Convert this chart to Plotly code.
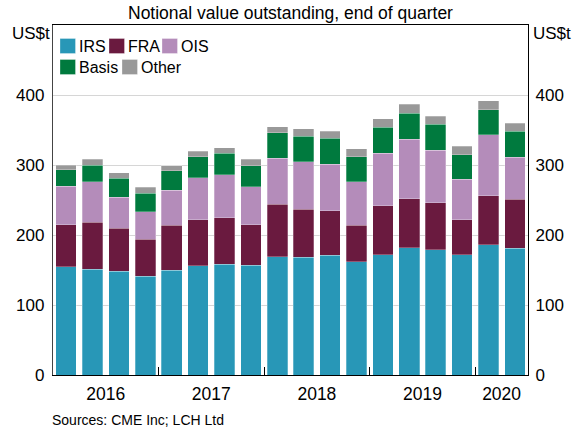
import plotly.graph_objects as go

quarters = ["2016Q1", "2016Q2", "2016Q3", "2016Q4",
            "2017Q1", "2017Q2", "2017Q3", "2017Q4",
            "2018Q1", "2018Q2", "2018Q3", "2018Q4",
            "2019Q1", "2019Q2", "2019Q3", "2019Q4",
            "2020Q1", "2020Q2"]
irs = [155, 151, 148, 141, 150, 156, 158, 157, 169, 168, 171, 162, 172, 182, 179, 172, 186, 181]
fra = [60, 67, 62, 53, 64, 66, 67, 58, 75, 69, 64, 52, 70, 70, 67, 50, 70, 70]
ois = [55, 58, 44, 39, 50, 60, 61, 54, 66, 68, 66, 62, 75, 85, 75, 58, 87, 60]
basis = [23, 24, 27, 27, 28, 30, 31, 30, 36, 36, 37, 36, 37, 37, 37, 35, 36, 37]
other = [7, 8, 8, 8, 7, 8, 8, 9, 9, 11, 10, 11, 12, 13, 12, 12, 13, 12]

year_labels = ["2016", "2017", "2018", "2019", "2020"]
year_centres = [1.5, 5.5, 9.5, 13.5, 16.5]
year_bounds = [3.5, 7.5, 11.5, 15.5]
y_ticks = [0, 100, 200, 300, 400]

series = [("IRS", irs, "#2897b7"), ("FRA", fra, "#6a1a3f"), ("OIS", ois, "#b48cba"),
          ("Basis", basis, "#007a3e"), ("Other", other, "#999999")]

FONT = "Liberation Sans, Arial, sans-serif"
FS = 17
x = list(range(len(quarters)))

fig = go.Figure()
for name, vals, col in series:
    fig.add_trace(go.Bar(x=x, y=vals, name=name, marker_color=col,
                         marker_line=dict(width=0.6, color="rgba(255,255,255,0.45)"),
                         customdata=quarters,
                         hovertemplate="%{customdata}: %{y}<extra>" + name + "</extra>",
                         showlegend=False))
# invisible trace so the right-hand axis is drawn
fig.add_trace(go.Scatter(x=[0], y=[0], yaxis="y2", mode="markers",
                         marker=dict(opacity=0), showlegend=False, hoverinfo="skip"))

W, H = 580, 431
ml, mr, mt, mb = 53, 52, 25, 56
pw, ph = W - ml - mr, H - mt - mb


def px(xp):
    return (xp - ml) / pw


def py(yp):
    return (H - mb - yp) / ph


fig.update_layout(
    width=W, height=H, barmode="stack", bargap=0.22,
    margin=dict(l=ml, r=mr, t=mt, b=mb),
    paper_bgcolor="white", plot_bgcolor="white",
    font=dict(family=FONT, size=FS, color="black"),
    xaxis=dict(range=[-0.5, 17.5], tickmode="array", tickvals=year_centres, ticktext=year_labels,
               ticks="", showgrid=False, showline=True, linecolor="black", linewidth=1.3,
               mirror=True, zeroline=False, ticklabelstandoff=3, tickfont=dict(size=17.5),
               minor=dict(tickmode="array", tickvals=year_bounds, ticks="inside",
                          ticklen=8, tickcolor="black", tickwidth=1, showgrid=False)),
    yaxis=dict(range=[0, 500], tickmode="array", tickvals=y_ticks, ticks="",
               showgrid=True, gridcolor="#d6d6d6", gridwidth=1.3, zeroline=False,
               showline=True, linecolor="#444", linewidth=1.3, ticklabelstandoff=4),
    yaxis2=dict(range=[0, 500], overlaying="y", side="right", tickmode="array",
                tickvals=y_ticks, ticks="", showgrid=False, zeroline=False,
                showline=True, linecolor="black", linewidth=1.3, ticklabelstandoff=3),
    showlegend=False,
)

annotations = [
    dict(text="Notional value outstanding, end of quarter", x=px(290), y=py(13),
         xanchor="center", yanchor="middle", font=dict(size=17.5)),
    dict(text="US$t", x=px(10), y=py(33), xanchor="left", yanchor="middle", font=dict(size=FS)),
    dict(text="US$t", x=px(531), y=py(33), xanchor="left", yanchor="middle", font=dict(size=FS)),
    dict(text="Sources: CME Inc; LCH Ltd", x=px(50), y=py(420), xanchor="left",
         yanchor="middle", font=dict(size=14)),
]

# legend drawn as swatches + labels
legend_items = [("IRS", 60, 46), ("FRA", 109, 46), ("OIS", 162, 46),
                ("Basis", 60, 67), ("Other", 122, 67)]
colors = {n: c for n, _, c in series}
shapes = []
for name, lx, ly in legend_items:
    shapes.append(dict(type="rect", xref="paper", yref="paper",
                       x0=px(lx), x1=px(lx + 15.5), y0=py(ly + 7.5), y1=py(ly - 7.5),
                       fillcolor=colors[name],
                       line=dict(width=0.6, color="rgba(255,255,255,0.5)")))
    annotations.append(dict(text=name, x=px(lx + 17), y=py(ly), xanchor="left",
                            yanchor="middle", font=dict(size=16)))

for a in annotations:
    a.update(showarrow=False, xref="paper", yref="paper")

fig.update_layout(annotations=annotations, shapes=shapes)
fig.write_html("out.html", config={"displayModeBar": False},
               post_script="document.body.style.margin='0';")
